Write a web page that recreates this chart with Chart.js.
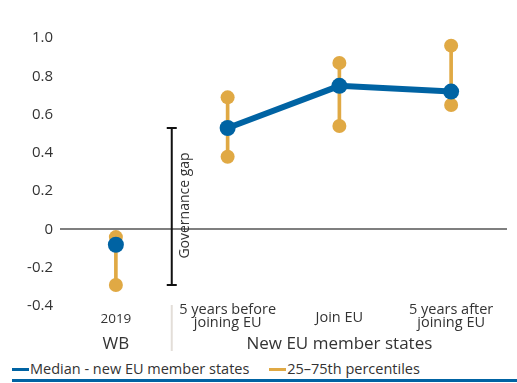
<!DOCTYPE html>
<html>
<head>
<meta charset="utf-8">
<script src="https://cdn.jsdelivr.net/npm/chart.js@4/dist/chart.umd.min.js"></script>
<style>
body{margin:0;background:#fff;font-family:"Open Sans",sans-serif;}
#wrap{position:relative;width:517px;height:383px;overflow:hidden;}
#chartBox{position:absolute;left:0;top:0;width:517px;height:356px;}
#legend{position:absolute;left:12px;top:359px;right:0;height:20px;border-bottom:3px solid #0063a3;
font-size:14.5px;color:#333;white-space:nowrap;}
.item{display:inline-block;margin-right:16px;line-height:20px;}
.swatch{display:inline-block;width:17px;height:3px;vertical-align:middle;margin-right:1px;position:relative;top:-1px;}
</style>
</head>
<body>
<div id="wrap">
<div id="chartBox"><canvas id="chart"></canvas></div>
<div id="legend">
<span class="item"><span class="swatch" style="background:#0063a3"></span>Median - new EU member states</span>
<span class="item"><span class="swatch" style="background:#e0a944"></span>25–75th percentiles</span>
</div>
</div>
<script>

const categories = ["2019","5 years before\njoining EU","Join EU","5 years after\njoining EU"];
const groups = ["WB","New EU member states"];
const median = [-0.08, 0.53, 0.75, 0.72];
const p75 = [-0.04, 0.69, 0.87, 0.96];
const p25 = [-0.29, 0.38, 0.54, 0.65];
const yTicks = [-0.4,-0.2,0,0.2,0.4,0.6,0.8,1.0];

const BLUE = "#0063a3";
const GOLD = "#e0a944";
const FONT = "'Open Sans', sans-serif";

/* draws category labels, group labels, separator and the governance gap bracket */
const extras = {
id:"extras",
afterDraw(chart){

const ctx = chart.ctx;
const x = chart.scales.x;
const y = chart.scales.y;

ctx.save();
ctx.fillStyle = "#333";
ctx.textAlign = "center";
ctx.textBaseline = "middle";

categories.forEach((c,i)=>{
const px = x.getPixelForValue(i);
const lines = c.split("\n");
ctx.font = (i===0 ? "13.5px " : "14.5px ") + FONT;
if(lines.length===1){
ctx.fillText(lines[0], px, i===0 ? 319 : 318);
}else{
ctx.fillText(lines[0], px, 310);
ctx.fillText(lines[1], px, 323);
}
});

// group labels
ctx.font = "17px " + FONT;
ctx.fillText(groups[0], x.getPixelForValue(0), 344);
ctx.fillText(groups[1], (x.getPixelForValue(1)+x.getPixelForValue(3))/2, 344);

// separator between groups
const sep = (x.getPixelForValue(0)+x.getPixelForValue(1))/2;
ctx.strokeStyle = "#e3ded8";
ctx.lineWidth = 2;
ctx.beginPath();
ctx.moveTo(sep, 305);
ctx.lineTo(sep, 351);
ctx.stroke();

// governance gap bracket
const top = y.getPixelForValue(median[1]);
const bot = y.getPixelForValue(p25[0]);
ctx.strokeStyle = "#111";
ctx.lineWidth = 2;
ctx.beginPath();
ctx.moveTo(sep, top); ctx.lineTo(sep, bot);
ctx.moveTo(sep-5, top); ctx.lineTo(sep+5, top);
ctx.moveTo(sep-5, bot); ctx.lineTo(sep+5, bot);
ctx.stroke();

ctx.translate(sep+13, (top+bot)/2 - 1);
ctx.rotate(-Math.PI/2);
ctx.font = "14px " + FONT;
ctx.fillText("Governance gap", 0, 0);

ctx.restore();
}
};

const ctx = document.getElementById("chart").getContext("2d");

new Chart(ctx,{
type:"line",
data:{
labels:categories,
datasets:[
{
label:"Median - new EU member states",
data:median,
borderColor:BLUE,
backgroundColor:BLUE,
borderWidth:6,
pointRadius:8,
pointBorderWidth:0,
pointHoverRadius:8,
segment:{
borderColor: c => c.p0DataIndex===0 ? "rgba(0,0,0,0)" : BLUE
}
},
{
label:"75th",
data:p75,
showLine:false,
backgroundColor:GOLD,
borderColor:GOLD,
pointRadius:7,
pointBorderWidth:0
},
{
label:"25th",
data:p25,
showLine:false,
backgroundColor:GOLD,
borderColor:GOLD,
pointRadius:7,
pointBorderWidth:0
},
{
type:"bar",
label:"25–75th percentiles",
data:p25.map((v,i)=>[v,p75[i]]),
backgroundColor:GOLD,
barThickness:3
}
]
},
options:{
responsive:true,
maintainAspectRatio:false,
animation:false,
layout:{padding:{top:38,right:10,bottom:50,left:0}},
plugins:{
legend:{display:false},
tooltip:{enabled:false}
},
scales:{
x:{
display:false,
offset:true
},
y:{
min:-0.4,
max:1.0,
afterBuildTicks(scale){
scale.ticks = yTicks.map(v=>({value:v}));
},
afterFit(scale){
scale.width = 60;
},
border:{display:false},
grid:{
drawTicks:false,
lineWidth: c => c.tick && c.tick.value===0 ? 2 : 0,
color: c => c.tick && c.tick.value===0 ? "#7f7f7f" : "rgba(0,0,0,0)"
},
ticks:{
padding:7,
color:"#333",
font:{family:"'Open Sans', sans-serif",size:15},
callback:v => v===0 ? "0" : Number(v).toFixed(1)
}
}
}
},
plugins:[extras]
});

</script>
</body>
</html>
